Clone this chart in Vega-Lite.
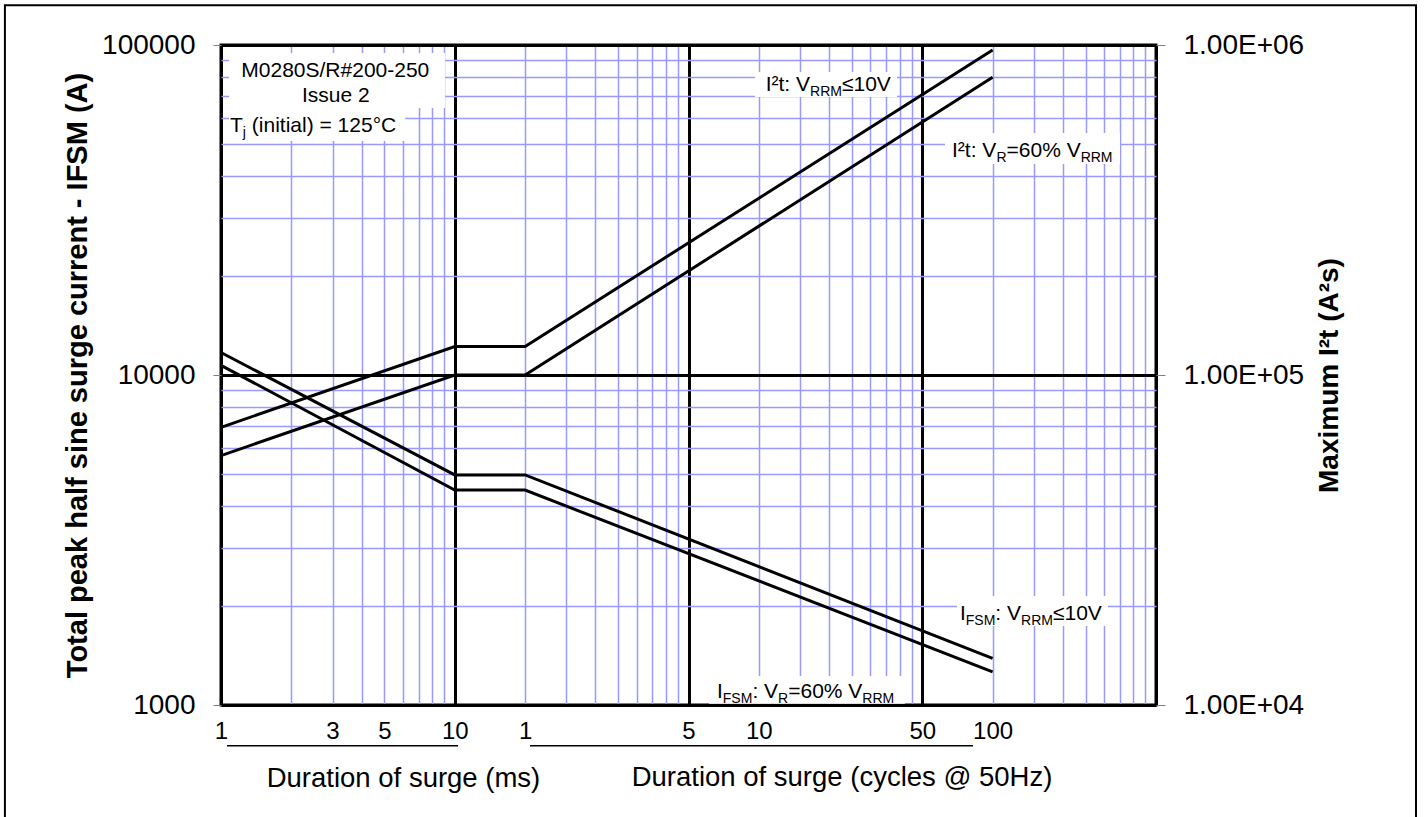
{
  "$schema": "https://vega.github.io/schema/vega-lite/v6.json",
  "width": 935,
  "height": 660,
  "autosize": {"type": "none"},
  "padding": {"left": 221, "top": 45, "right": 268, "bottom": 112},
  "background": "white",
  "config": {
    "font": "Liberation Sans",
    "view": {"stroke": "black", "strokeWidth": 3},
    "text": {"font": "Liberation Sans", "color": "black"}
  },
  "datasets": {
    "ifsm": [
      {"series": "IFSM: VRRM≤10V", "t_ms": 1, "value": 11700},
      {"series": "IFSM: VRRM≤10V", "t_ms": 10, "value": 4980},
      {"series": "IFSM: VRRM≤10V", "t_ms": 20, "value": 4980},
      {"series": "IFSM: VRRM≤10V", "t_ms": 2000, "value": 1385},
      {"series": "IFSM: VR=60% VRRM", "t_ms": 1, "value": 10700},
      {"series": "IFSM: VR=60% VRRM", "t_ms": 10, "value": 4480},
      {"series": "IFSM: VR=60% VRRM", "t_ms": 20, "value": 4480},
      {"series": "IFSM: VR=60% VRRM", "t_ms": 2000, "value": 1260}
    ],
    "i2t": [
      {"series": "I²t: VRRM≤10V", "t_ms": 1, "value": 69400},
      {"series": "I²t: VRRM≤10V", "t_ms": 10, "value": 122000},
      {"series": "I²t: VRRM≤10V", "t_ms": 20, "value": 122000},
      {"series": "I²t: VRRM≤10V", "t_ms": 2000, "value": 966000},
      {"series": "I²t: VR=60% VRRM", "t_ms": 1, "value": 57000},
      {"series": "I²t: VR=60% VRRM", "t_ms": 10, "value": 100000},
      {"series": "I²t: VR=60% VRRM", "t_ms": 20, "value": 100000},
      {"series": "I²t: VR=60% VRRM", "t_ms": 2000, "value": 798000}
    ]
  },
  "layer": [
    {
      "data": {"name": "ifsm"},
      "mark": {"type": "line", "color": "black", "strokeWidth": 3},
      "encoding": {
        "x": {
          "field": "t_ms", "type": "quantitative",
          "scale": {"type": "log", "domain": [1, 10000]},
          "axis": {
            "values": [1,2,3,4,5,6,7,8,9,10,20,30,40,50,60,70,80,90,100,200,300,400,500,600,700,800,900,1000,2000,3000,4000,5000,6000,7000,8000,9000,10000],
            "labelExpr": "datum.value==1?'1':datum.value==3?'3':datum.value==5?'5':datum.value==10?'10':datum.value==20?'1':datum.value==100?'5':datum.value==200?'10':datum.value==1000?'50':datum.value==2000?'100':''",
            "labelFontSize": 24, "labelColor": "black", "labelPadding": 14,
            "labelOverlap": false, "labelFlush": false, "labelBound": false,
            "ticks": false, "tickSize": 0, "domain": false, "grid": true,
            "gridColor": {"condition": {"test": "datum.value==1||datum.value==10||datum.value==100||datum.value==1000||datum.value==10000", "value": "black"}, "value": "#9999ff"},
            "gridWidth": {"condition": {"test": "datum.value==1||datum.value==10||datum.value==100||datum.value==1000||datum.value==10000", "value": 3}, "value": 1.5},
            "title": "Duration of surge (ms)", "titleFontSize": 27.5, "titleFontWeight": "normal",
            "titleX": 182, "titleY": 81, "titleBaseline": "alphabetic", "titleAlign": "center", "titleColor": "black"
          }
        },
        "y": {
          "field": "value", "type": "quantitative",
          "scale": {"type": "log", "domain": [1000, 100000]},
          "axis": {
            "values": [1000,2000,3000,4000,5000,6000,7000,8000,9000,10000,20000,30000,40000,50000,60000,70000,80000,90000,100000],
            "labelExpr": "datum.value==1000?'1000':datum.value==10000?'10000':datum.value==100000?'100000':''",
            "labelFontSize": 28, "labelColor": "black", "labelPadding": 18, "labelOverlap": false,
            "tickSize": 8, "tickColor": "#808080",
            "tickOpacity": {"condition": {"test": "datum.value==1000||datum.value==10000||datum.value==100000", "value": 1}, "value": 0},
            "domain": false, "grid": true,
            "gridColor": {"condition": {"test": "datum.value==1000||datum.value==10000||datum.value==100000", "value": "black"}, "value": "#9999ff"},
            "gridWidth": {"condition": {"test": "datum.value==1000||datum.value==10000||datum.value==100000", "value": 3}, "value": 1.5},
            "title": "Total peak half sine surge current - IFSM (A)",
            "titleFontSize": 29, "titleFontWeight": "bold", "titlePadding": 9, "titleColor": "black"
          }
        },
        "detail": {"field": "series"}
      }
    },
    {
      "data": {"name": "i2t"},
      "mark": {"type": "line", "color": "black", "strokeWidth": 3},
      "encoding": {
        "x": {"field": "t_ms", "type": "quantitative", "scale": {"type": "log", "domain": [1, 10000]}, "axis": null},
        "y": {
          "field": "value", "type": "quantitative",
          "scale": {"type": "log", "domain": [10000, 1000000]},
          "axis": {
            "orient": "right",
            "values": [10000, 100000, 1000000],
            "labelExpr": "datum.value==10000?'1.00E+04':datum.value==100000?'1.00E+05':'1.00E+06'",
            "labelFontSize": 28, "labelColor": "black", "labelPadding": 18, "labelOverlap": false,
            "tickSize": 9, "tickColor": "#808080", "domain": false, "grid": false,
            "title": "Maximum I²t (A²s)", "titleFontSize": 28, "titleFontWeight": "bold",
            "titleAngle": 270, "titleBaseline": "top", "titlePadding": 12, "titleColor": "black"
          }
        },
        "detail": {"field": "series"}
      }
    },
    {
      "data": {"values": [{}]},
      "mark": {"type": "rect", "fill": null, "stroke": "black", "strokeWidth": 2},
      "encoding": {
        "x": {"datum": 0.119, "type": "quantitative", "scale": {"type": "log", "domain": [1, 10000]}, "axis": null},
        "x2": {"datum": 129500},
        "y": {"datum": 132000, "type": "quantitative", "scale": {"type": "log", "domain": [1000, 100000]}, "axis": null},
        "y2": {"datum": 400}
      }
    },
    {
      "data": {"values": [{}]},
      "mark": {"type": "rect", "fill": "white"},
      "encoding": {
        "x": {"datum": 1.082, "type": "quantitative", "scale": {"type": "log", "domain": [1, 10000]}, "axis": null},
        "x2": {"datum": 9.08},
        "y": {"datum": 94570, "type": "quantitative", "scale": {"type": "log", "domain": [1000, 100000]}, "axis": null},
        "y2": {"datum": 64430}
      }
    },
    {
      "data": {"values": [{}]},
      "mark": {"type": "rect", "fill": "white"},
      "encoding": {
        "x": {"datum": 1.082, "type": "quantitative", "scale": {"type": "log", "domain": [1, 10000]}, "axis": null},
        "x2": {"datum": 6.13},
        "y": {"datum": 64430, "type": "quantitative", "scale": {"type": "log", "domain": [1000, 100000]}, "axis": null},
        "y2": {"datum": 51180}
      }
    },
    {
      "data": {"values": [{}]},
      "mark": {"type": "rect", "fill": "white"},
      "encoding": {
        "x": {"datum": 192.5, "type": "quantitative", "scale": {"type": "log", "domain": [1, 10000]}, "axis": null},
        "x2": {"datum": 779.8},
        "y": {"datum": 82860, "type": "quantitative", "scale": {"type": "log", "domain": [1000, 100000]}, "axis": null},
        "y2": {"datum": 69560}
      }
    },
    {
      "data": {"values": [{}]},
      "mark": {"type": "rect", "fill": "white"},
      "encoding": {
        "x": {"datum": 1251, "type": "quantitative", "scale": {"type": "log", "domain": [1, 10000]}, "axis": null},
        "x2": {"datum": 7015},
        "y": {"datum": 54120, "type": "quantitative", "scale": {"type": "log", "domain": [1000, 100000]}, "axis": null},
        "y2": {"datum": 43600}
      }
    },
    {
      "data": {"values": [{}]},
      "mark": {"type": "rect", "fill": "white"},
      "encoding": {
        "x": {"datum": 1408, "type": "quantitative", "scale": {"type": "log", "domain": [1, 10000]}, "axis": null},
        "x2": {"datum": 6232},
        "y": {"datum": 2140, "type": "quantitative", "scale": {"type": "log", "domain": [1000, 100000]}, "axis": null},
        "y2": {"datum": 1735}
      }
    },
    {
      "data": {"values": [{}]},
      "mark": {"type": "rect", "fill": "white"},
      "encoding": {
        "x": {"datum": 122.4, "type": "quantitative", "scale": {"type": "log", "domain": [1, 10000]}, "axis": null},
        "x2": {"datum": 843.9},
        "y": {"datum": 1224, "type": "quantitative", "scale": {"type": "log", "domain": [1000, 100000]}, "axis": null},
        "y2": {"datum": 1008}
      }
    },
    {
      "data": {"values": [{}]},
      "mark": {"type": "text", "align": "center", "baseline": "alphabetic", "fontSize": 21},
      "encoding": {
        "x": {"datum": 3.083, "type": "quantitative", "scale": {"type": "log", "domain": [1, 10000]}, "axis": null},
        "y": {"datum": 79980, "type": "quantitative", "scale": {"type": "log", "domain": [1000, 100000]}, "axis": null},
        "text": {"value": "M0280S/R#200-250"}
      }
    },
    {
      "data": {"values": [{}]},
      "mark": {"type": "text", "align": "center", "baseline": "alphabetic", "fontSize": 21},
      "encoding": {
        "x": {"datum": 3.1, "type": "quantitative", "scale": {"type": "log", "domain": [1, 10000]}, "axis": null},
        "y": {"datum": 67330, "type": "quantitative", "scale": {"type": "log", "domain": [1000, 100000]}, "axis": null},
        "text": {"value": "Issue 2"}
      }
    },
    {
      "data": {"values": [{}]},
      "mark": {"type": "text", "align": "left", "baseline": "alphabetic", "fontSize": 21},
      "encoding": {
        "x": {"datum": 1.093, "type": "quantitative", "scale": {"type": "log", "domain": [1, 10000]}, "axis": null},
        "y": {"datum": 54600, "type": "quantitative", "scale": {"type": "log", "domain": [1000, 100000]}, "axis": null},
        "text": {"value": "T"}
      }
    },
    {
      "data": {"values": [{}]},
      "mark": {"type": "text", "align": "left", "baseline": "alphabetic", "fontSize": 14, "dx": 12.8, "dy": 5},
      "encoding": {
        "x": {"datum": 1.093, "type": "quantitative", "scale": {"type": "log", "domain": [1, 10000]}, "axis": null},
        "y": {"datum": 54600, "type": "quantitative", "scale": {"type": "log", "domain": [1000, 100000]}, "axis": null},
        "text": {"value": "j"}
      }
    },
    {
      "data": {"values": [{}]},
      "mark": {"type": "text", "align": "left", "baseline": "alphabetic", "fontSize": 21, "dx": 21.8},
      "encoding": {
        "x": {"datum": 1.093, "type": "quantitative", "scale": {"type": "log", "domain": [1, 10000]}, "axis": null},
        "y": {"datum": 54600, "type": "quantitative", "scale": {"type": "log", "domain": [1000, 100000]}, "axis": null},
        "text": {"value": "(initial) = 125°C"}
      }
    },
    {
      "data": {"values": [{}]},
      "mark": {"type": "text", "align": "left", "baseline": "alphabetic", "fontSize": 21},
      "encoding": {
        "x": {"datum": 213.9, "type": "quantitative", "scale": {"type": "log", "domain": [1, 10000]}, "axis": null},
        "y": {"datum": 72690, "type": "quantitative", "scale": {"type": "log", "domain": [1000, 100000]}, "axis": null},
        "text": {"value": "I²t: V"}
      }
    },
    {
      "data": {"values": [{}]},
      "mark": {"type": "text", "align": "left", "baseline": "alphabetic", "fontSize": 14, "dx": 44.4, "dy": 5},
      "encoding": {
        "x": {"datum": 213.9, "type": "quantitative", "scale": {"type": "log", "domain": [1, 10000]}, "axis": null},
        "y": {"datum": 72690, "type": "quantitative", "scale": {"type": "log", "domain": [1000, 100000]}, "axis": null},
        "text": {"value": "RRM"}
      }
    },
    {
      "data": {"values": [{}]},
      "mark": {"type": "text", "align": "left", "baseline": "alphabetic", "fontSize": 21, "dx": 76.3},
      "encoding": {
        "x": {"datum": 213.9, "type": "quantitative", "scale": {"type": "log", "domain": [1, 10000]}, "axis": null},
        "y": {"datum": 72690, "type": "quantitative", "scale": {"type": "log", "domain": [1000, 100000]}, "axis": null},
        "text": {"value": "≤10V"}
      }
    },
    {
      "data": {"values": [{}]},
      "mark": {"type": "text", "align": "left", "baseline": "alphabetic", "fontSize": 21},
      "encoding": {
        "x": {"datum": 1341, "type": "quantitative", "scale": {"type": "log", "domain": [1, 10000]}, "axis": null},
        "y": {"datum": 45860, "type": "quantitative", "scale": {"type": "log", "domain": [1000, 100000]}, "axis": null},
        "text": {"value": "I²t: V"}
      }
    },
    {
      "data": {"values": [{}]},
      "mark": {"type": "text", "align": "left", "baseline": "alphabetic", "fontSize": 14, "dx": 44.4, "dy": 5},
      "encoding": {
        "x": {"datum": 1341, "type": "quantitative", "scale": {"type": "log", "domain": [1, 10000]}, "axis": null},
        "y": {"datum": 45860, "type": "quantitative", "scale": {"type": "log", "domain": [1000, 100000]}, "axis": null},
        "text": {"value": "R"}
      }
    },
    {
      "data": {"values": [{}]},
      "mark": {"type": "text", "align": "left", "baseline": "alphabetic", "fontSize": 21, "dx": 54.5},
      "encoding": {
        "x": {"datum": 1341, "type": "quantitative", "scale": {"type": "log", "domain": [1, 10000]}, "axis": null},
        "y": {"datum": 45860, "type": "quantitative", "scale": {"type": "log", "domain": [1000, 100000]}, "axis": null},
        "text": {"value": "=60% V"}
      }
    },
    {
      "data": {"values": [{}]},
      "mark": {"type": "text", "align": "left", "baseline": "alphabetic", "fontSize": 14, "dx": 128.6, "dy": 5},
      "encoding": {
        "x": {"datum": 1341, "type": "quantitative", "scale": {"type": "log", "domain": [1, 10000]}, "axis": null},
        "y": {"datum": 45860, "type": "quantitative", "scale": {"type": "log", "domain": [1000, 100000]}, "axis": null},
        "text": {"value": "RRM"}
      }
    },
    {
      "data": {"values": [{}]},
      "mark": {"type": "text", "align": "left", "baseline": "alphabetic", "fontSize": 21},
      "encoding": {
        "x": {"datum": 1450, "type": "quantitative", "scale": {"type": "log", "domain": [1, 10000]}, "axis": null},
        "y": {"datum": 1809, "type": "quantitative", "scale": {"type": "log", "domain": [1000, 100000]}, "axis": null},
        "text": {"value": "I"}
      }
    },
    {
      "data": {"values": [{}]},
      "mark": {"type": "text", "align": "left", "baseline": "alphabetic", "fontSize": 14, "dx": 5.8, "dy": 5},
      "encoding": {
        "x": {"datum": 1450, "type": "quantitative", "scale": {"type": "log", "domain": [1, 10000]}, "axis": null},
        "y": {"datum": 1809, "type": "quantitative", "scale": {"type": "log", "domain": [1000, 100000]}, "axis": null},
        "text": {"value": "FSM"}
      }
    },
    {
      "data": {"values": [{}]},
      "mark": {"type": "text", "align": "left", "baseline": "alphabetic", "fontSize": 21, "dx": 35.4},
      "encoding": {
        "x": {"datum": 1450, "type": "quantitative", "scale": {"type": "log", "domain": [1, 10000]}, "axis": null},
        "y": {"datum": 1809, "type": "quantitative", "scale": {"type": "log", "domain": [1000, 100000]}, "axis": null},
        "text": {"value": ": V"}
      }
    },
    {
      "data": {"values": [{}]},
      "mark": {"type": "text", "align": "left", "baseline": "alphabetic", "fontSize": 14, "dx": 61.1, "dy": 5},
      "encoding": {
        "x": {"datum": 1450, "type": "quantitative", "scale": {"type": "log", "domain": [1, 10000]}, "axis": null},
        "y": {"datum": 1809, "type": "quantitative", "scale": {"type": "log", "domain": [1000, 100000]}, "axis": null},
        "text": {"value": "RRM"}
      }
    },
    {
      "data": {"values": [{}]},
      "mark": {"type": "text", "align": "left", "baseline": "alphabetic", "fontSize": 21, "dx": 93.0},
      "encoding": {
        "x": {"datum": 1450, "type": "quantitative", "scale": {"type": "log", "domain": [1, 10000]}, "axis": null},
        "y": {"datum": 1809, "type": "quantitative", "scale": {"type": "log", "domain": [1000, 100000]}, "axis": null},
        "text": {"value": "≤10V"}
      }
    },
    {
      "data": {"values": [{}]},
      "mark": {"type": "text", "align": "left", "baseline": "alphabetic", "fontSize": 21},
      "encoding": {
        "x": {"datum": 132.4, "type": "quantitative", "scale": {"type": "log", "domain": [1, 10000]}, "axis": null},
        "y": {"datum": 1050, "type": "quantitative", "scale": {"type": "log", "domain": [1000, 100000]}, "axis": null},
        "text": {"value": "I"}
      }
    },
    {
      "data": {"values": [{}]},
      "mark": {"type": "text", "align": "left", "baseline": "alphabetic", "fontSize": 14, "dx": 5.8, "dy": 5},
      "encoding": {
        "x": {"datum": 132.4, "type": "quantitative", "scale": {"type": "log", "domain": [1, 10000]}, "axis": null},
        "y": {"datum": 1050, "type": "quantitative", "scale": {"type": "log", "domain": [1000, 100000]}, "axis": null},
        "text": {"value": "FSM"}
      }
    },
    {
      "data": {"values": [{}]},
      "mark": {"type": "text", "align": "left", "baseline": "alphabetic", "fontSize": 21, "dx": 35.4},
      "encoding": {
        "x": {"datum": 132.4, "type": "quantitative", "scale": {"type": "log", "domain": [1, 10000]}, "axis": null},
        "y": {"datum": 1050, "type": "quantitative", "scale": {"type": "log", "domain": [1000, 100000]}, "axis": null},
        "text": {"value": ": V"}
      }
    },
    {
      "data": {"values": [{}]},
      "mark": {"type": "text", "align": "left", "baseline": "alphabetic", "fontSize": 14, "dx": 61.1, "dy": 5},
      "encoding": {
        "x": {"datum": 132.4, "type": "quantitative", "scale": {"type": "log", "domain": [1, 10000]}, "axis": null},
        "y": {"datum": 1050, "type": "quantitative", "scale": {"type": "log", "domain": [1000, 100000]}, "axis": null},
        "text": {"value": "R"}
      }
    },
    {
      "data": {"values": [{}]},
      "mark": {"type": "text", "align": "left", "baseline": "alphabetic", "fontSize": 21, "dx": 71.2},
      "encoding": {
        "x": {"datum": 132.4, "type": "quantitative", "scale": {"type": "log", "domain": [1, 10000]}, "axis": null},
        "y": {"datum": 1050, "type": "quantitative", "scale": {"type": "log", "domain": [1000, 100000]}, "axis": null},
        "text": {"value": "=60% V"}
      }
    },
    {
      "data": {"values": [{}]},
      "mark": {"type": "text", "align": "left", "baseline": "alphabetic", "fontSize": 14, "dx": 145.3, "dy": 5},
      "encoding": {
        "x": {"datum": 132.4, "type": "quantitative", "scale": {"type": "log", "domain": [1, 10000]}, "axis": null},
        "y": {"datum": 1050, "type": "quantitative", "scale": {"type": "log", "domain": [1000, 100000]}, "axis": null},
        "text": {"value": "RRM"}
      }
    },
    {
      "data": {"values": [{}]},
      "mark": {"type": "rule", "color": "black", "strokeWidth": 1.5},
      "encoding": {
        "x": {"datum": 1.061, "type": "quantitative", "scale": {"type": "log", "domain": [1, 10000]}, "axis": null},
        "x2": {"datum": 10.33},
        "y": {"datum": 753, "type": "quantitative", "scale": {"type": "log", "domain": [1000, 100000]}, "axis": null}
      }
    },
    {
      "data": {"values": [{}]},
      "mark": {"type": "rule", "color": "black", "strokeWidth": 1.5},
      "encoding": {
        "x": {"datum": 20.99, "type": "quantitative", "scale": {"type": "log", "domain": [1, 10000]}, "axis": null},
        "x2": {"datum": 1649},
        "y": {"datum": 753, "type": "quantitative", "scale": {"type": "log", "domain": [1000, 100000]}, "axis": null}
      }
    },
    {
      "data": {"values": [{}]},
      "mark": {"type": "text", "align": "center", "baseline": "alphabetic", "fontSize": 27.5},
      "encoding": {
        "x": {"datum": 453.6, "type": "quantitative", "scale": {"type": "log", "domain": [1, 10000]}, "axis": null},
        "y": {"datum": 568.3, "type": "quantitative", "scale": {"type": "log", "domain": [1000, 100000]}, "axis": null},
        "text": {"value": "Duration of surge (cycles @ 50Hz)"}
      }
    }
  ],
  "resolve": {
    "scale": {"x": "independent", "y": "independent"},
    "axis": {"x": "independent", "y": "independent"}
  }
}
